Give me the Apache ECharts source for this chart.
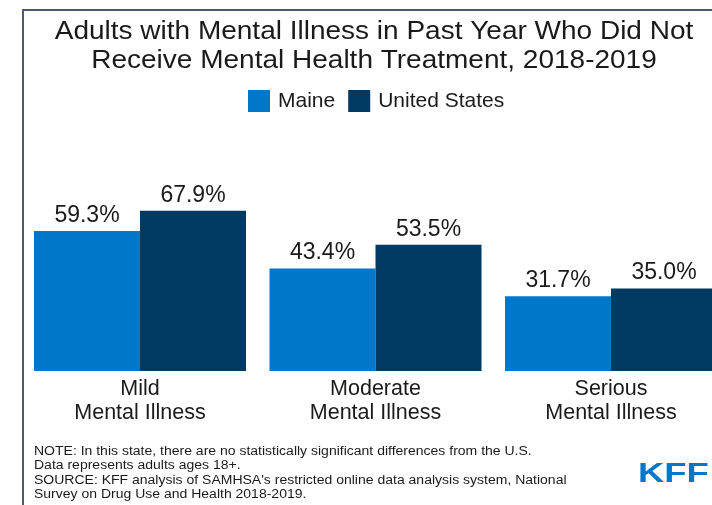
<!DOCTYPE html>
<html>
<head>
<meta charset="utf-8">
<script src="https://cdn.jsdelivr.net/npm/echarts@6/dist/echarts.min.js"></script>
<style>
  html, body { margin: 0; padding: 0; background: #ffffff; }
  #chart { width: 712px; height: 505px; }
</style>
</head>
<body>
<div id="chart"></div>
<script>
// Share of adults with mental illness who did not receive treatment (%)
const categories = ['Mild\nMental Illness', 'Moderate\nMental Illness', 'Serious\nMental Illness'];
const maineValues = [59.3, 43.4, 31.7];
const usValues = [67.9, 53.5, 35.0];
const seriesNames = ['Maine', 'United States'];

const titleLines = [
  'Adults with Mental Illness in Past Year Who Did Not',
  'Receive Mental Health Treatment, 2018-2019'
];
const noteLines = [
  'NOTE: In this state, there are no statistically significant differences from the U.S.',
  'Data represents adults ages 18+.',
  "SOURCE: KFF analysis of SAMHSA's restricted online data analysis system, National",
  'Survey on Drug Use and Health 2018-2019.'
];

const FONT = '"Liberation Sans", Arial, Helvetica, sans-serif';
const MAINE_BLUE = '#0077c8';
const US_NAVY = '#003a63';
const FRAME = '#4b5a70';

const chart = echarts.init(document.getElementById('chart'), null, { renderer: 'canvas' });

const barLabel = {
  show: true,
  position: 'top',
  distance: 4,
  fontFamily: FONT,
  fontSize: 23,
  color: '#1a1a1a',
  formatter: p => p.value.toFixed(1) + '%'
};

// The grid spans from the first category centre to the last one; the
// right-hand group runs past the edge of the canvas, so bars are not clipped.
chart.setOption({
  backgroundColor: '#ffffff',
  animation: false,
  textStyle: { fontFamily: FONT },
  legend: {
    data: seriesNames,
    left: 248,
    top: 90,
    itemWidth: 22,
    itemHeight: 22,
    itemGap: 13,
    padding: 0,
    icon: 'rect',
    textStyle: { fontFamily: FONT, fontSize: 21, color: '#1a1a1a', padding: [0, 0, 0, 3] }
  },
  grid: {
    left: 140,
    top: 135,
    width: 471,
    height: 236,
    containLabel: false
  },
  xAxis: {
    type: 'category',
    data: categories,
    boundaryGap: false,
    axisLine: { show: false },
    axisTick: { show: false },
    splitLine: { show: false },
    axisLabel: {
      margin: 6,
      fontFamily: FONT,
      fontSize: 21.5,
      lineHeight: 24,
      color: '#1a1a1a',
      interval: 0
    }
  },
  yAxis: {
    type: 'value',
    min: 0,
    max: 100,
    show: false,
    splitLine: { show: false }
  },
  series: [
    {
      name: seriesNames[0],
      type: 'bar',
      data: maineValues,
      barWidth: 106,
      barGap: '0%',
      clip: false,
      itemStyle: { color: MAINE_BLUE },
      label: barLabel
    },
    {
      name: seriesNames[1],
      type: 'bar',
      data: usValues,
      barWidth: 106,
      barGap: '0%',
      clip: false,
      itemStyle: { color: US_NAVY },
      label: barLabel
    }
  ],
  graphic: [
    // frame along the top and left edges
    {
      type: 'polyline',
      silent: true,
      shape: { points: [[23, 505], [23, 10], [712, 10]] },
      style: { stroke: FRAME, lineWidth: 2, fill: null }
    },
    {
      type: 'text',
      x: 374,
      y: 18,
      scaleX: 1.12,
      style: {
        text: titleLines.join('\n'),
        fontFamily: FONT,
        fontSize: 25,
        lineHeight: 29,
        fill: '#1a1a1a',
        align: 'center',
        verticalAlign: 'top'
      }
    },
    {
      type: 'text',
      x: 34,
      y: 444,
      scaleX: 1.12,
      style: {
        text: noteLines.join('\n'),
        fontFamily: FONT,
        fontSize: 12.5,
        lineHeight: 14.5,
        fill: '#1a1a1a',
        align: 'left',
        verticalAlign: 'top'
      }
    },
    {
      type: 'text',
      x: 638,
      y: 460,
      scaleX: 1.3,
      style: {
        text: 'KFF',
        fontFamily: FONT,
        fontWeight: 'bold',
        fontSize: 28,
        fill: MAINE_BLUE,
        align: 'left',
        verticalAlign: 'top'
      }
    }
  ]
});
</script>
</body>
</html>
